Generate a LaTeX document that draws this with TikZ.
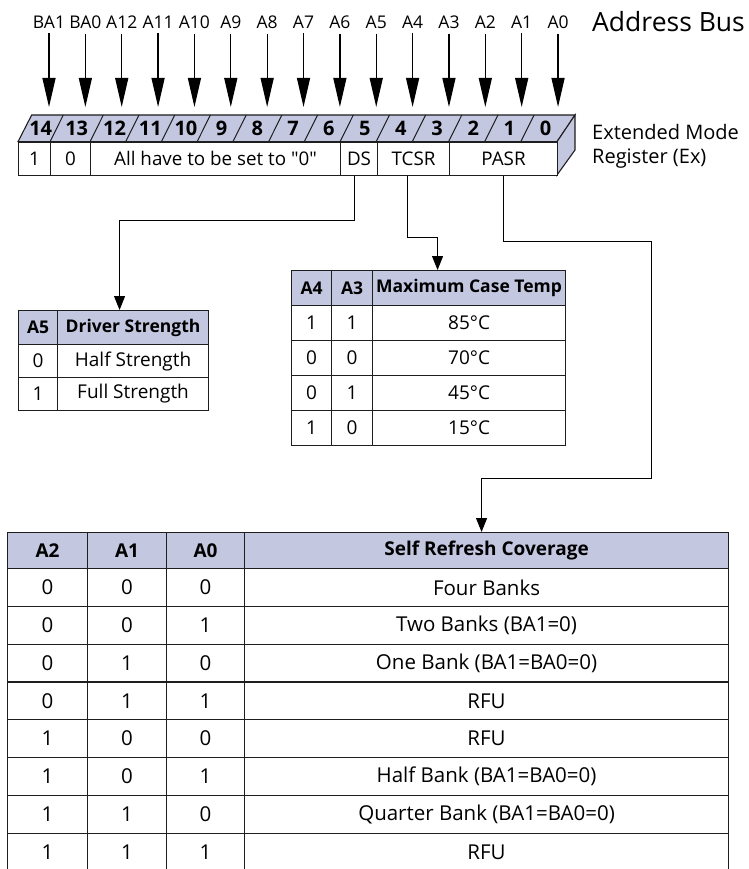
\documentclass[tikz,border=0pt]{standalone}
\usepackage{fontspec}
\setmainfont{Open Sans}
\usetikzlibrary{arrows.meta}

\definecolor{reglav}{RGB}{195,199,224}
\definecolor{lineblk}{RGB}{30,30,30}

\tikzset{
  busarrow/.style={line width=1.3pt, -{Triangle[length=29pt,width=13pt]}},
  conn/.style={line width=1pt, -{Triangle[length=14pt,width=11pt]}},
  cell/.style={draw=lineblk, line width=1.1pt, inner sep=0pt, anchor=north west,
    font=\fontsize{19}{21}\selectfont},
  bigcell/.style={cell, font=\fontsize{20.5}{22}\selectfont},
  headcell/.style={cell, fill=reglav, font=\fontsize{17.5}{20}\selectfont\bfseries},
  bighead/.style={cell, fill=reglav, font=\fontsize{19}{21}\selectfont\bfseries},
  regcell/.style={cell, fill=white, minimum height=33.3pt, font=\fontsize{18.8}{20}\selectfont},
  bitnum/.style={font=\fontsize{20}{21}\selectfont\bfseries, inner sep=0pt},
  buslabel/.style={font=\fontsize{17.5}{20}\selectfont, inner sep=0pt}
}

\begin{document}
\begin{tikzpicture}[x=1pt, y=-1pt]
    \useasboundingbox (0,0) rectangle (748,869);

    % Address bus
    \foreach \lbl [count=\i from 0] in {BA1,BA0,A12,A11,A10,A9,A8,A7,A6,A5,A4,A3,A2,A1,A0} {
        \node[buslabel] (bus\i) at ({49+36.36*\i},22) {\lbl};
        \coordinate (busin\i) at ({49+36.36*\i},107);
        \draw[busarrow] ([yshift=-5pt]bus\i.south) -- (busin\i);
    }
    \node[anchor=west, font=\fontsize{26.5}{28}\selectfont, inner sep=0pt] (busname) at (592,22) {Address Bus};

    % Register band and side face
    \filldraw[fill=reglav, draw=lineblk, line width=1.1pt] (18,141.7) -- (31.7,115) -- (575,115) -- (557,141.7) -- cycle;
    \filldraw[fill=reglav, draw=lineblk, line width=1.1pt] (557,141.7) -- (575,115) -- (575,150) -- (557,175) -- cycle;

    % Bit numbers
    \foreach \xa/\xb/\n in {18/50/14, 50/90/13, 90/125.7/12, 125.7/161.4/11, 161.4/197.1/10,
        197.1/232.9/9, 232.9/268.6/8, 268.6/304.3/7, 304.3/340/6, 340/376.2/5,
        376.2/412.3/4, 412.3/448.5/3, 448.5/484.7/2, 484.7/520.8/1, 520.8/557/0} {
        \node[bitnum] (bit\n) at ({(\xa+\xb)/2+6.7},128.3) {\n};
    }
    \foreach \xb in {50,90,125.7,161.4,197.1,232.9,268.6,304.3,340,376.2,412.3,448.5,484.7,520.8}
        \draw[lineblk, line width=1pt] (\xb,141.7) -- ++(13.3,-26.7);

    % Register fields
    \node[regcell, minimum width=32pt] (fixone) at (18,141.7) {1};
    \node[regcell, minimum width=40pt] (fixzero) at (50,141.7) {0};
    \node[regcell, minimum width=250pt] (allzero) at (90,141.7) {All have to be set to \textquotedbl 0\textquotedbl};
    \node[regcell, minimum width=37pt] (ds) at (340,141.7) {DS};
    \node[regcell, minimum width=72pt] (tcsr) at (377,141.7) {TCSR};
    \node[regcell, minimum width=108pt] (pasr) at (449,141.7) {PASR};

    \node[anchor=west, align=left, font=\fontsize{20}{24}\selectfont, inner sep=0pt] (regname) at (592,146)
        {Extended Mode\\Register (Ex)};

    % Driver strength table
    \node[headcell, minimum width=39pt, minimum height=34pt] (drvA5) at (18,310) {A5};
    \node[headcell, minimum width=151pt, minimum height=34pt] (drvname) at (57,310) {Driver Strength};
    \foreach \v/\txt [count=\r from 0] in {0/Half Strength, 1/Full Strength} {
        \node[cell, minimum width=39pt, minimum height=33pt] (drvv\r) at (18,{344+33*\r}) {\v};
        \node[cell, minimum width=151pt, minimum height=33pt] (drvt\r) at (57,{344+33*\r}) {\txt};
    }

    % Case temperature table
    \node[headcell, minimum width=40pt, minimum height=35pt] (tmpA4) at (291,270) {A4};
    \node[headcell, minimum width=41pt, minimum height=35pt] (tmpA3) at (331,270) {A3};
    \node[headcell, minimum width=193pt, minimum height=35pt] (tmpname) at (372,270) {Maximum Case Temp};
    \foreach \a/\b/\t [count=\r from 0] in {1/1/85°C, 0/0/70°C, 0/1/45°C, 1/0/15°C} {
        \node[cell, minimum width=40pt, minimum height=35pt] (tmpa\r) at (291,{305+35*\r}) {\a};
        \node[cell, minimum width=41pt, minimum height=35pt] (tmpb\r) at (331,{305+35*\r}) {\b};
        \node[cell, minimum width=193pt, minimum height=35pt] (tmpt\r) at (372,{305+35*\r}) {\t};
    }

    % Self refresh table
    \node[bighead, minimum width=80pt, minimum height=36pt] (srA2) at (7,532) {A2};
    \node[bighead, minimum width=79pt, minimum height=36pt] (srA1) at (87,532) {A1};
    \node[bighead, minimum width=78pt, minimum height=36pt] (srA0) at (166,532) {A0};
    \node[bighead, minimum width=484pt, minimum height=36pt] (bigname) at (244,532) {Self Refresh Coverage};
    \foreach \a/\b/\c/\txt [count=\r from 0] in {0/0/0/Four Banks, 0/0/1/Two Banks (BA1=0),
        0/1/0/One Bank (BA1=BA0=0), 0/1/1/RFU, 1/0/0/RFU, 1/0/1/Half Bank (BA1=BA0=0),
        1/1/0/Quarter Bank (BA1=BA0=0), 1/1/1/RFU} {
        \node[bigcell, minimum width=80pt, minimum height=37.8pt] (sra\r) at (7,{568+37.8*\r}) {\a};
        \node[bigcell, minimum width=79pt, minimum height=37.8pt] (srb\r) at (87,{568+37.8*\r}) {\b};
        \node[bigcell, minimum width=78pt, minimum height=37.8pt] (src\r) at (166,{568+37.8*\r}) {\c};
        \node[bigcell, minimum width=484pt, minimum height=37.8pt] (srt\r) at (244,{568+37.8*\r}) {\txt};
    }

    % Connectors
    \coordinate (pasrbend) at (651,478);
    \draw[conn] ([xshift=-4.5pt]ds.south) -- ++(0,44.5) -| ([xshift=-13.5pt]drvname.north);
    \draw[conn] ([xshift=-6pt]tcsr.south) -- ++(0,61.5) -| ([xshift=-31.5pt]tmpname.north);
    \draw[conn] (pasr.south) -- ++(0,65.5) -| (pasrbend) -| ([xshift=-5pt]bigname.north);
\end{tikzpicture}
\end{document}
